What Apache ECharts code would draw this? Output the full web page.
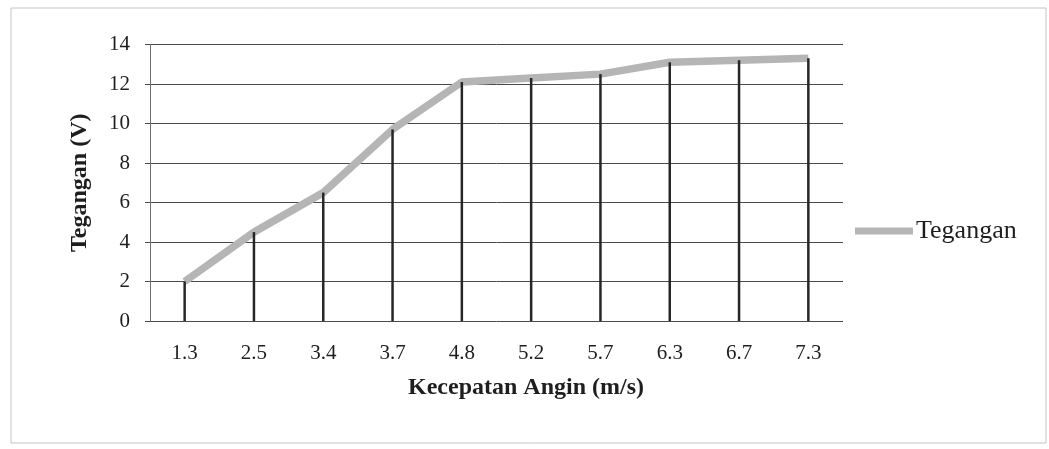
<!DOCTYPE html>
<html>
<head>
<meta charset="utf-8">
<script src="https://cdn.jsdelivr.net/npm/echarts@6/dist/echarts.min.js"></script>
<style>
  html, body { margin: 0; padding: 0; background: #fff; }
  #chart { width: 1049px; height: 449px; }
</style>
</head>
<body>
<div id="chart"></div>
<script>
// Wind speed (m/s) on the category axis, generated voltage (V) per speed
const windSpeeds = ['1.3', '2.5', '3.4', '3.7', '4.8', '5.2', '5.7', '6.3', '6.7', '7.3'];
const voltage = [2.0, 4.5, 6.5, 9.7, 12.1, 12.3, 12.5, 13.1, 13.2, 13.3];
const yTicks = { min: 0, max: 14, interval: 2 };
const seriesName = 'Tegangan';
const xTitle = 'Kecepatan Angin (m/s)';
const yTitle = 'Tegangan (V)';

const serif = 'Liberation Serif, Times New Roman, serif';
const ink = '#1e1e1e';
const chart = echarts.init(document.getElementById('chart'), null, { renderer: 'canvas' });

chart.setOption({
  animation: false,
  backgroundColor: '#ffffff',
  grid: { left: 150, right: 206, top: 44.5, bottom: 128, containLabel: false },
  legend: {
    data: [seriesName],
    left: 855,
    top: 218,
    padding: 0,
    icon: 'rect',
    itemWidth: 58,
    itemHeight: 7,
    itemGap: 5,
    textStyle: { fontFamily: serif, fontSize: 26, color: ink, padding: [0, 0, 0, -2] }
  },
  xAxis: {
    type: 'category',
    data: windSpeeds,
    boundaryGap: true,
    axisLine: { show: false },
    axisTick: { show: false },
    axisLabel: { margin: 22, fontFamily: serif, fontSize: 21, color: ink },
    splitLine: { show: false }
  },
  yAxis: {
    type: 'value',
    min: yTicks.min,
    max: yTicks.max,
    interval: yTicks.interval,
    name: yTitle,
    nameLocation: 'middle',
    nameGap: 58,
    nameTextStyle: { fontFamily: serif, fontSize: 24, fontWeight: 'bold', color: ink },
    axisLine: { show: true, lineStyle: { color: '#6e6e6e', width: 1 } },
    axisTick: { show: true, length: 5, lineStyle: { color: '#4a4a4a' } },
    axisLabel: { margin: 20, fontFamily: serif, fontSize: 21, color: ink },
    splitLine: { show: true, lineStyle: { color: '#4a4a4a', width: 1 } }
  },
  graphic: [
    {
      type: 'rect',
      shape: { x: 11, y: 8, width: 1035, height: 435 },
      style: { fill: 'none', stroke: '#c4c4c4', lineWidth: 1 },
      silent: true, z: -1
    },
    {
      type: 'text',
      x: 526, y: 388,
      style: {
        text: xTitle,
        fontFamily: serif, fontSize: 24, fontWeight: 'bold',
        fill: ink, align: 'center', verticalAlign: 'middle'
      }
    }
  ],
  series: [
    {
      name: seriesName,
      type: 'line',
      data: voltage,
      symbol: 'none',
      lineStyle: { color: '#b5b5b5', width: 7.5 },
      itemStyle: { color: '#b5b5b5' },
      z: 2
    },
    {
      // drop lines from each point down to the axis
      name: 'drop',
      type: 'bar',
      data: voltage,
      barWidth: 2.5,
      itemStyle: { color: '#262626' },
      z: 3
    }
  ]
});
</script>
</body>
</html>
